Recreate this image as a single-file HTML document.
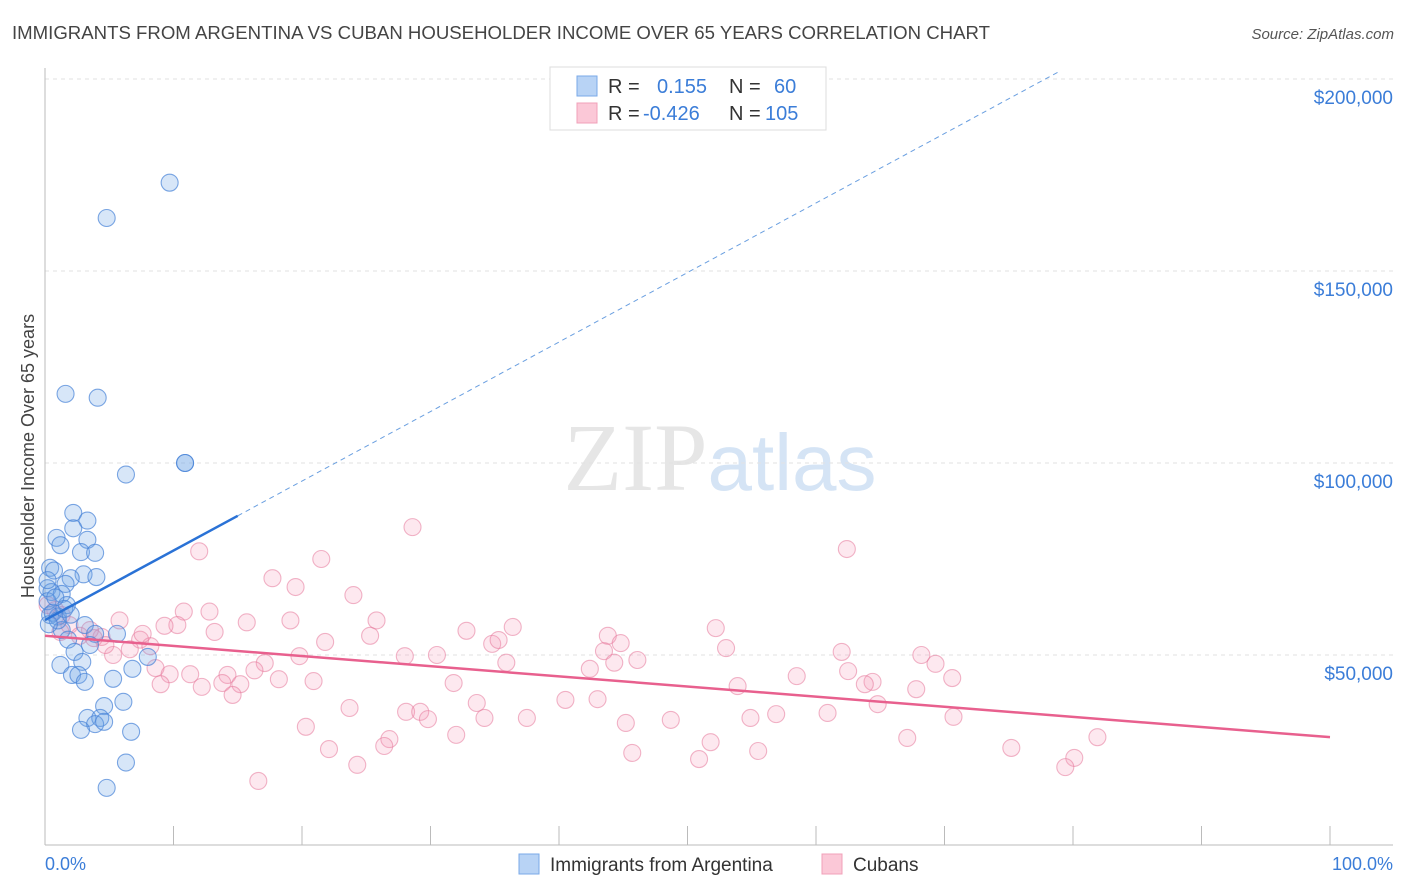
<!DOCTYPE html>
<html><head><meta charset="utf-8"><style>
body{margin:0;background:#fff;font-family:"Liberation Sans",sans-serif;}
svg{display:block}
</style></head><body>
<svg id="c" width="1406" height="892" xmlns="http://www.w3.org/2000/svg">
<text x="12" y="39" font-size="18" fill="#444" textLength="978" lengthAdjust="spacingAndGlyphs">IMMIGRANTS FROM ARGENTINA VS CUBAN HOUSEHOLDER INCOME OVER 65 YEARS CORRELATION CHART</text>
<text x="1394" y="39" font-size="15" fill="#555" text-anchor="end" font-style="italic">Source: ZipAtlas.com</text>
<text x="720" y="490" font-size="96" text-anchor="middle" fill="#e6e6e6" font-family="Liberation Serif">ZIP<tspan fill="#d5e4f5" font-family="Liberation Sans" font-size="80">atlas</tspan></text>
<text transform="translate(34,456) rotate(-90)" font-size="18" fill="#444" text-anchor="middle">Householder Income Over 65 years</text>
<g id="grid"></g><g id="pts"></g><g id="lines"></g>
<g>
<rect x="550" y="67" width="276" height="63" fill="#fff" stroke="#ddd"/>
<rect x="577" y="76" width="20" height="20" fill="#b8d3f5" stroke="#7aaae8"/>
<rect x="577" y="103" width="20" height="20" fill="#fbc8d7" stroke="#f0a0b8"/>
<text x="608" y="93" font-size="20" fill="#333">R = <tspan x="657" fill="#3b7dd8">0.155</tspan><tspan x="729" fill="#333">N =</tspan><tspan x="774" fill="#3b7dd8">60</tspan></text>
<text x="608" y="120" font-size="20" fill="#333">R = <tspan x="643" fill="#3b7dd8">-0.426</tspan><tspan x="729" fill="#333">N =</tspan><tspan x="765" fill="#3b7dd8">105</tspan></text>
</g>
<g>
<rect x="519" y="854" width="20" height="20" fill="#b8d3f5" stroke="#7aaae8"/>
<text x="550" y="871" font-size="19" fill="#333">Immigrants from Argentina</text>
<rect x="822" y="854" width="20" height="20" fill="#fbc8d7" stroke="#f0a0b8"/>
<text x="853" y="871" font-size="19" fill="#333">Cubans</text>
</g>
<text x="45" y="870" font-size="18" fill="#3b7dd8">0.0%</text>
<text x="1393" y="870" font-size="18" fill="#3b7dd8" text-anchor="end">100.0%</text>
</svg>
<script>
const yTicks=[50000,100000,150000,200000];
const yTickLabels=["$50,000","$100,000","$150,000","$200,000"];
const blueX=[9.7,4.8,1.6,4.1,10.9,6.3,2.2,3.3,2.2,0.9,3.3,1.2,2.8,3.9,0.4,0.7,3.0,4.0,2.0,1.6,0.2,0.5,1.3,1.7,0.4,1.0,3.1,1.3,5.6,3.9,1.8,3.5,8.0,2.3,2.9,1.2,6.8,2.1,2.6,3.1,5.3,6.1,4.6,3.3,4.3,3.9,4.6,2.8,6.7,6.3,4.8,0.2,0.2,10.9,0.6,1.0,0.3,1.5,0.8,2.0];
const blueY=[173,163.8,118,117,100,97,87,85,83,80.5,80,78.6,76.8,76.6,72.7,72,71,70.3,70,68.5,67.4,66.4,65.9,63,60.4,60,57.8,56.5,55.5,55.5,54,52.6,49.5,50.8,48.2,47.4,46.4,44.8,44.8,43,43.8,37.8,36.7,33.6,33.6,32,32.6,30.5,30,22,15.4,69.5,64,100,61,59,58,62,65,60.5];
const pinkX=[12,21.5,28.6,62.4,17.7,19.5,24,12.8,10.8,5.8,25.8,15.7,19.1,10.3,9.3,13.2,25.3,32.8,36.4,43.8,44.8,52.2,53,62,68.2,7.4,4.4,21.8,34.8,35.3,19.8,28,30.5,35.9,43.5,44.3,46.1,5.3,6.6,8.6,9.7,11.3,14.2,17.1,16.3,8.2,42.4,62.5,69.3,70.6,64.4,58.5,18.2,20.9,9,12.2,13.8,15.2,14.6,31.8,53.9,63.8,67.8,40.5,43,33.6,23.7,28.1,29.2,29.8,34.2,37.5,45.2,48.7,54.9,56.9,60.9,64.8,70.7,20.3,32,26.8,26.4,22.1,24.3,45.7,51.8,55.5,50.9,67.1,75.2,80.1,79.4,81.9,16.6,0.2,0.8,1.3,1.9,1.2,3.5,2.7,3.8,4.7,7.6];
const pinkY=[77,75,83.3,77.6,70,67.7,65.6,61.3,61.3,59,59,58.5,59,57.8,57.6,56,55,56.3,57.3,55,53.1,57,51.8,50.8,50,54,54.7,53.4,52.9,53.9,49.7,49.7,50,48,51,48,48.7,50,51.5,46.6,45,45,44.8,47.9,46,52.3,46.4,45.8,47.7,44,43,44.5,43.7,43.2,42.4,41.7,42.7,42.4,39.6,42.7,41.9,42.4,41.1,38.3,38.5,37.5,36.2,35.2,35.2,33.3,33.6,33.6,32.3,33.1,33.6,34.6,34.9,37.2,33.9,31.3,29.2,28.1,26.3,25.5,21.4,24.5,27.3,25,22.9,28.4,25.8,23.2,20.8,28.6,17.2,63,61.7,60.4,57.8,56,56.5,55,54.4,52.6,55.5];
const blueFit=[59.1,1.81];
const pinkFit=[55,-0.264];
const X=p=>45+12.85*p;
const Y=v=>847-v*192/50000;
const NS="http://www.w3.org/2000/svg";
function mk(t,a,parent){const e=document.createElementNS(NS,t);for(const k in a)e.setAttribute(k,a[k]);parent.appendChild(e);return e;}
const g=document.getElementById('grid');
yTicks.forEach((v,i)=>{
 const l=mk('line',{x1:45,x2:1393,y1:Y(v),y2:Y(v),stroke:'#e2e2e2','stroke-dasharray':'4,4'},g);
 
 
 const t=mk('text',{x:1393,y:Y(v)+25,'font-size':19,fill:'#3b7dd8','text-anchor':'end'},g);
 t.textContent=yTickLabels[i];
 
 
});
const ax=mk('line',{x1:45,x2:45,y1:68,y2:845,stroke:'#bbb'},g);


const bx=mk('line',{x1:45,x2:1393,y1:845,y2:845,stroke:'#bbb'},g);


for(let i=0;i<=10;i++){
 const tk=mk('line',{x1:X(i*10),x2:X(i*10),y1:826,y2:845,stroke:'#bbb'},g);
 
 
}
const pg=document.getElementById('pts');
pinkX.forEach((x,i)=>{
 const c=mk('circle',{cx:X(x),cy:Y(pinkY[i]*1000),r:8.5,fill:'rgba(245,150,180,0.22)',stroke:'rgba(230,120,155,0.55)','stroke-width':1.1},pg);
 
 
});
blueX.forEach((x,i)=>{
 const c=mk('circle',{cx:X(x),cy:Y(blueY[i]*1000),r:8.5,fill:'rgba(110,165,230,0.28)',stroke:'rgba(70,130,215,0.7)','stroke-width':1.1},pg);
 
 
});
const lg=document.getElementById('lines');
const f=(fit,x)=>Y((fit[0]+fit[1]*x)*1000);
const b1=mk('line',{x1:X(0),y1:f(blueFit,0),x2:X(15),y2:f(blueFit,15),stroke:'#2a72d6','stroke-width':2.5},lg);


const b2=mk('line',{x1:X(15),y1:f(blueFit,15),x2:X(79),y2:f(blueFit,79),stroke:'#6a9fe0','stroke-width':1,'stroke-dasharray':'5,4'},lg);


const p1=mk('line',{x1:X(0),y1:f(pinkFit,0),x2:X(100),y2:f(pinkFit,100),stroke:'#e8608e','stroke-width':2.5},lg);


</script>
</body></html>
